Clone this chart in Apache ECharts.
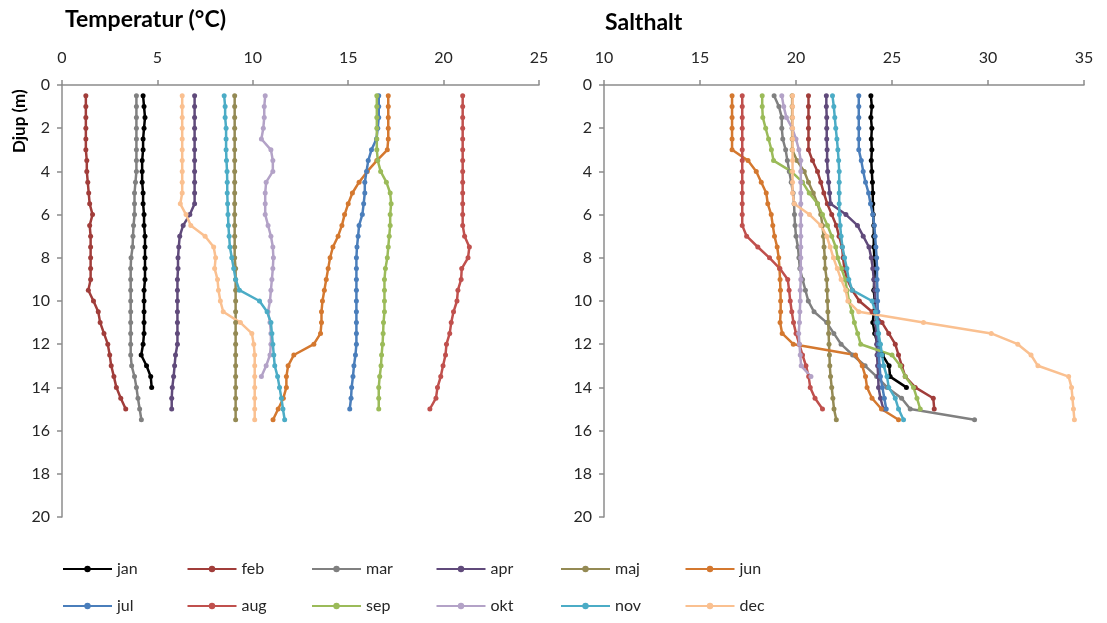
<!DOCTYPE html>
<html>
<head>
<meta charset="utf-8">
<script src="https://cdn.jsdelivr.net/npm/echarts@6/dist/echarts.min.js"></script>
<style>
  html, body { margin: 0; padding: 0; background: #fff; }
  #chart { width: 1107px; height: 623px; }
</style>
</head>
<body>
<div id="chart"></div>
<script>
var months = ['jan', 'feb', 'mar', 'apr', 'maj', 'jun', 'jul', 'aug', 'sep', 'okt', 'nov', 'dec']
var colors = ['#000000', '#A13D3A', '#808080', '#604A7B', '#948A54', '#D4782F',
              '#4A7EBB', '#C0504D', '#9BBB59', '#B3A2C7', '#4BACC6', '#FAC090']

// depth of each sample (m)
var depth = [0.5, 1, 1.5, 2, 2.5, 3, 3.5, 4, 4.5, 5, 5.5, 6, 6.5, 7, 7.5, 8,
             8.5, 9, 9.5, 10, 10.5, 11, 11.5, 12, 12.5, 13, 13.5, 14, 14.5, 15, 15.5]

var tempTicks = [0, 5, 10, 15, 20, 25]
var saltTicks = [10, 15, 20, 25, 30, 35]
var depthTicks = [0, 2, 4, 6, 8, 10, 12, 14, 16, 18, 20]

// temperatur (°C)
var tempJan = [4.25, 4.3, 4.35, 4.3, 4.25, 4.25, 4.2, 4.2, 4.2, 4.25, 4.25, 4.3, 4.3, 4.35, 4.35, 4.35,
               4.35, 4.35, 4.3, 4.3, 4.3, 4.3, 4.3, 4.25, 4.15, 4.43, 4.65, 4.7]
var tempFeb = [1.25, 1.25, 1.25, 1.25, 1.25, 1.25, 1.3, 1.3, 1.35, 1.4, 1.45, 1.6, 1.45, 1.5, 1.5, 1.5,
               1.5, 1.5, 1.38, 1.65, 1.9, 2.0, 2.2, 2.4, 2.5, 2.58, 2.72, 2.85, 3.08, 3.34]
var tempMar = [3.9, 3.9, 3.9, 3.9, 3.9, 3.9, 3.9, 3.9, 3.85, 3.8, 3.8, 3.8, 3.75, 3.72, 3.7, 3.62,
               3.6, 3.6, 3.6, 3.6, 3.6, 3.6, 3.6, 3.6, 3.6, 3.65, 3.8, 3.9, 3.98, 4.07, 4.16]
var tempApr = [6.95, 6.95, 6.95, 6.95, 6.95, 6.95, 6.95, 6.95, 6.95, 6.95, 6.95, 6.7, 6.35, 6.17, 6.12, 6.08,
               6.08, 6.05, 6.05, 6.05, 6.05, 6.05, 6.05, 6.05, 5.95, 5.9, 5.85, 5.78, 5.75, 5.75]
var tempMaj = [9.05, 9.05, 9.05, 9.05, 9.05, 9.05, 9.05, 9.05, 9.05, 9.05, 9.05, 9.05, 9.05, 9.05, 9.05, 9.05,
               9.1, 9.1, 9.1, 9.1, 9.1, 9.1, 9.1, 9.1, 9.1, 9.1, 9.1, 9.1, 9.1, 9.1, 9.1]
var tempJun = [17.1, 17.1, 17.1, 17.1, 17.1, 17.05, 16.5, 16.0, 15.57, 15.22, 15.0, 14.81, 14.67, 14.47, 14.2, 14.05,
               13.95, 13.85, 13.75, 13.65, 13.6, 13.6, 13.55, 13.2, 12.15, 11.85, 11.76, 11.76, 11.6, 11.33, 11.06]
var tempJul = [16.6, 16.6, 16.6, 16.55, 16.48, 16.22, 16.05, 15.96, 15.87, 15.87, 15.81, 15.74, 15.57, 15.52, 15.46, 15.43,
               15.43, 15.43, 15.43, 15.43, 15.43, 15.43, 15.43, 15.43, 15.38, 15.3, 15.25, 15.18, 15.15, 15.08]
var tempAug = [21.0, 21.0, 21.0, 21.0, 21.0, 21.0, 21.0, 21.0, 21.0, 21.0, 21.0, 21.0, 21.0, 21.1, 21.35, 21.28,
               20.95, 20.92, 20.75, 20.7, 20.52, 20.4, 20.32, 20.15, 20.1, 19.97, 19.85, 19.68, 19.6, 19.28]
var tempSep = [16.5, 16.5, 16.5, 16.5, 16.5, 16.5, 16.55, 16.7, 17.0, 17.2, 17.25, 17.2, 17.2, 17.15, 17.1, 17.05,
               16.95, 16.9, 16.9, 16.9, 16.9, 16.85, 16.83, 16.8, 16.75, 16.72, 16.65, 16.6, 16.6, 16.6]
var tempOkt = [10.65, 10.6, 10.6, 10.55, 10.45, 10.95, 11.05, 11.05, 10.7, 10.65, 10.65, 10.65, 10.8, 10.95, 11.05, 11.08,
               11.05, 11.0, 10.95, 10.9, 10.8, 10.9, 10.95, 10.95, 10.9, 10.7, 10.45]
var tempNov = [8.5, 8.55, 8.55, 8.6, 8.6, 8.6, 8.62, 8.65, 8.66, 8.66, 8.68, 8.7, 8.72, 8.76, 8.8, 8.9,
               9.0, 9.1, 9.3, 10.35, 10.75, 10.95, 11.0, 11.05, 11.1, 11.15, 11.3, 11.4, 11.5, 11.58, 11.67]
var tempDec = [6.3, 6.3, 6.3, 6.3, 6.3, 6.3, 6.3, 6.3, 6.3, 6.3, 6.2, 6.5, 6.75, 7.5, 7.95, 8.05,
               8.0, 8.15, 8.2, 8.3, 8.45, 9.35, 9.95, 10.05, 10.1, 10.1, 10.1, 10.1, 10.1, 10.1, 10.1]

// salthalt
var saltJan = [23.9, 23.95, 23.9, 23.95, 23.92, 23.95, 23.92, 23.95, 23.98, 24.0, 24.0, 24.02, 24.05, 24.05, 24.05, 24.08,
               24.12, 24.08, 24.05, 24.1, 24.05, 24.0, 24.1, 24.25, 24.5, 24.85, 24.9, 25.75]
var saltFeb = [20.65, 20.65, 20.65, 20.65, 20.65, 20.65, 20.86, 21.12, 21.29, 21.45, 21.63, 21.86, 22.1, 22.24, 22.4, 22.45,
               22.52, 22.67, 22.93, 23.3, 23.96, 24.48, 24.83, 25.17, 25.34, 25.51, 25.69, 26.21, 27.15, 27.2]
var saltMar = [18.86, 19.11, 19.26, 19.26, 19.31, 19.46, 19.55, 19.65, 19.75, 19.85, 19.9, 19.92, 19.95, 20.0, 20.1, 20.15,
               20.2, 20.34, 20.49, 20.64, 20.94, 21.6, 21.97, 22.35, 22.95, 23.6, 24.2, 24.75, 25.5, 25.95, 29.3]
var saltApr = [21.58, 21.58, 21.6, 21.6, 21.6, 21.62, 21.62, 21.65, 21.7, 21.75, 21.8, 22.6, 23.2, 23.5, 23.8, 23.92,
               24.0, 24.05, 24.1, 24.12, 24.15, 24.15, 24.18, 24.2, 24.22, 24.25, 24.28, 24.3, 24.4, 24.55]
var saltMaj = [19.8, 19.8, 19.8, 19.8, 19.8, 19.8, 20.05, 20.43, 20.65, 20.9, 21.12, 21.29, 21.38, 21.43, 21.46, 21.5,
               21.52, 21.6, 21.62, 21.64, 21.66, 21.68, 21.7, 21.72, 21.74, 21.76, 21.8, 21.86, 21.92, 21.98, 22.1]
var saltJun = [16.67, 16.67, 16.67, 16.67, 16.67, 16.67, 17.5, 17.93, 18.19, 18.45, 18.53, 18.71, 18.79, 18.88, 19.02, 19.1,
               19.14, 19.17, 19.19, 19.2, 19.2, 19.17, 19.28, 19.86, 23.1, 23.45, 23.62, 23.7, 23.96, 24.45, 25.34]
var saltJul = [23.27, 23.27, 23.27, 23.27, 23.27, 23.27, 23.4, 23.5, 23.62, 23.78, 23.88, 24.0, 24.08, 24.12, 24.16, 24.2,
               24.22, 24.22, 24.24, 24.25, 24.26, 24.27, 24.28, 24.3, 24.32, 24.35, 24.4, 24.5, 24.6, 24.7]
var saltAug = [17.2, 17.2, 17.2, 17.2, 17.2, 17.2, 17.2, 17.2, 17.2, 17.2, 17.2, 17.2, 17.2, 17.43, 18.01, 18.62,
               19.16, 19.57, 19.64, 19.7, 19.78, 19.87, 20.0, 20.17, 20.34, 20.52, 20.66, 20.74, 20.99, 21.38]
var saltSep = [18.24, 18.24, 18.27, 18.42, 18.57, 18.72, 18.83, 19.75, 20.34, 20.69, 21.12, 21.38, 21.64, 21.86, 22.07, 22.17,
               22.37, 22.56, 22.66, 22.76, 22.91, 23.04, 23.21, 23.37, 25.0, 25.43, 25.69, 26.12, 26.3, 26.47]
var saltOkt = [19.26, 19.36, 19.5, 19.8, 20.0, 20.15, 20.25, 20.25, 20.25, 20.25, 20.25, 20.25, 20.25, 20.25, 20.25, 20.25,
               20.25, 20.25, 20.22, 20.22, 20.2, 20.18, 20.14, 20.18, 20.22, 20.27, 20.78]
var saltNov = [21.9, 21.97, 22.02, 22.07, 22.13, 22.18, 22.22, 22.25, 22.25, 22.25, 22.25, 22.26, 22.3, 22.35, 22.42, 22.53,
               22.65, 22.75, 22.93, 23.96, 24.14, 24.22, 24.3, 24.4, 24.48, 24.57, 24.74, 24.83, 25.17, 25.34, 25.6]
var saltDec = [19.82, 19.82, 19.82, 19.82, 19.82, 19.82, 19.82, 19.82, 19.82, 19.82, 19.91, 20.7, 21.29, 21.6, 21.78, 21.95,
               22.15, 22.35, 22.59, 22.7, 23.27, 26.64, 30.17, 31.55, 32.24, 32.6, 34.2, 34.35, 34.4, 34.45, 34.5]

var tempData = [tempJan, tempFeb, tempMar, tempApr, tempMaj, tempJun, tempJul, tempAug, tempSep, tempOkt, tempNov, tempDec]
var saltData = [saltJan, saltFeb, saltMar, saltApr, saltMaj, saltJun, saltJul, saltAug, saltSep, saltOkt, saltNov, saltDec]

var font = 'Lato, "Open Sans", sans-serif'
var axisGrey = '#8C8C8C'

function profile(values) {
  return values.map(function (v, i) { return [v, depth[i]] })
}

var series = []
function addSeries(data, gridIdx) {
  months.forEach(function (m, i) {
    series.push({
      name: m,
      type: 'line',
      xAxisIndex: gridIdx,
      yAxisIndex: gridIdx,
      data: profile(data[i]),
      symbol: 'circle',
      symbolSize: 5,
      showSymbol: true,
      lineStyle: { width: 2.5, color: colors[i] },
      itemStyle: { color: colors[i] },
      emphasis: { disabled: true }
    })
  })
}
addSeries(tempData, 0)
addSeries(saltData, 1)

function xAxis(gridIdx, ticks) {
  return {
    gridIndex: gridIdx,
    type: 'value',
    position: 'top',
    min: ticks[0],
    max: ticks[ticks.length - 1],
    interval: ticks[1] - ticks[0],
    axisLine: { show: true, lineStyle: { color: axisGrey, width: 1.5 } },
    axisTick: { show: true, inside: false, length: 5, lineStyle: { color: axisGrey, width: 1.5 } },
    axisLabel: { margin: 19, fontSize: 16, color: '#262626', fontFamily: font },
    splitLine: { show: false }
  }
}
function yAxis(gridIdx) {
  return {
    gridIndex: gridIdx,
    type: 'value',
    inverse: true,
    min: depthTicks[0],
    max: depthTicks[depthTicks.length - 1],
    interval: depthTicks[1] - depthTicks[0],
    axisLine: { show: true, onZero: false, lineStyle: { color: axisGrey, width: 1.5 } },
    axisTick: { show: true, inside: false, length: 5, lineStyle: { color: axisGrey, width: 1.5 } },
    axisLabel: { margin: 12, fontSize: 16, color: '#262626', fontFamily: font },
    splitLine: { show: false }
  }
}

// one legend per item so the columns sit on a fixed pitch
var legends = months.map(function (m, k) {
  var col = k % 6
  var row = Math.floor(k / 6)
  return {
    data: [m],
    top: row === 0 ? 556 : 593,
    left: 57 + col * 124.5,
    itemWidth: 49,
    itemHeight: 8,
    itemGap: 0,
    selectedMode: false,
    textStyle: { fontSize: 16, color: '#262626', fontFamily: font }
  }
})

var chart = echarts.init(document.getElementById('chart'))
chart.setOption({
  animation: false,
  title: [
    { text: 'Temperatur (°C)', left: 65, top: 8, padding: 0,
      textStyle: { fontSize: 23, fontWeight: 'bold', color: '#000', fontFamily: font } },
    { text: 'Salthalt', left: 605, top: 11, padding: 0,
      textStyle: { fontSize: 23, fontWeight: 'bold', color: '#000', fontFamily: font } }
  ],
  graphic: [
    { type: 'text', x: 11, y: 153, rotation: Math.PI / 2,
      style: { text: 'Djup (m)', fontSize: 17, fontWeight: 'bold', fontFamily: font, fill: '#000', textAlign: 'left', textVerticalAlign: 'top' } }
  ],
  legend: legends,
  grid: [
    { left: 62, top: 85, width: 477, height: 432 },
    { left: 604, top: 85, width: 480, height: 432 }
  ],
  xAxis: [xAxis(0, tempTicks), xAxis(1, saltTicks)],
  yAxis: [yAxis(0), yAxis(1)],
  series: series
})
</script>
</body>
</html>
